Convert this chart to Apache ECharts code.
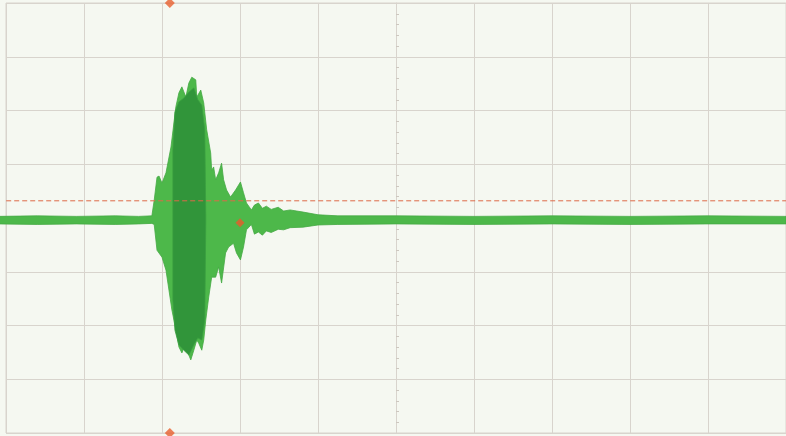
<!DOCTYPE html>
<html>
<head>
<meta charset="utf-8">
<script src="https://cdn.jsdelivr.net/npm/echarts@6/dist/echarts.min.js"></script>
<style>
  html, body { margin: 0; padding: 0; background: #f5f8f1; }
  #chart { width: 786px; height: 436px; }
</style>
</head>
<body>
<div id="chart"></div>
<script>
// Screen units are divisions: 10 across, 8 high, centred on 0.
// Trace envelope, upper edge (x in div, y in div)
const outerTopX = [-5.10, -4.60, -4.10, -3.60, -3.30, -3.13, -3.10, -3.064, -3.038, -3.00, -2.949, -2.885, -2.822, -2.783, -2.745, -2.694, -2.656, -2.618, -2.567, -2.554, -2.503, -2.465, -2.427, -2.376, -2.363, -2.338, -2.312, -2.274, -2.236, -2.210, -2.172, -2.121, -2.057, -1.994, -1.955, -1.917, -1.854, -1.815, -1.764, -1.713, -1.662, -1.600, -1.510, -1.440, -1.357, -1.190, -1.000, -0.745, 0.00, 1.00, 2.00, 3.00, 4.00, 5.00];
const outerTopY = [0.03, 0.04, 0.03, 0.04, 0.03, 0.04, 0.33, 0.76, 0.78, 0.65, 0.84, 1.32, 2.07, 2.33, 2.44, 2.25, 2.51, 2.62, 2.57, 2.25, 2.38, 2.14, 1.64, 1.21, 0.89, 0.95, 0.71, 0.84, 1.02, 0.71, 0.52, 0.39, 0.52, 0.67, 0.47, 0.28, 0.15, 0.24, 0.28, 0.18, 0.22, 0.16, 0.20, 0.13, 0.15, 0.11, 0.06, 0.04, 0.04, 0.03, 0.04, 0.03, 0.04, 0.03];
// Trace envelope, lower edge
const outerBottomX = [-5.10, -4.60, -4.10, -3.60, -3.30, -3.13, -3.10, -3.064, -3.00, -2.949, -2.911, -2.873, -2.822, -2.783, -2.745, -2.694, -2.656, -2.631, -2.592, -2.554, -2.529, -2.490, -2.465, -2.439, -2.401, -2.363, -2.312, -2.274, -2.236, -2.185, -2.146, -2.083, -2.045, -1.994, -1.955, -1.917, -1.854, -1.815, -1.764, -1.713, -1.662, -1.600, -1.510, -1.440, -1.357, -1.190, -1.000, -0.745, 0.00, 1.00, 2.00, 3.00, 4.00, 5.00];
const outerBottomY = [-0.11, -0.12, -0.11, -0.12, -0.11, -0.10, -0.12, -0.60, -0.73, -0.97, -1.34, -1.71, -2.08, -2.40, -2.51, -2.33, -2.55, -2.64, -2.46, -2.27, -2.33, -2.46, -2.27, -1.90, -1.47, -1.10, -1.10, -0.91, -1.21, -0.65, -0.54, -0.47, -0.65, -0.78, -0.54, -0.22, -0.12, -0.30, -0.26, -0.32, -0.24, -0.27, -0.21, -0.22, -0.18, -0.17, -0.13, -0.12, -0.11, -0.12, -0.11, -0.12, -0.11, -0.11];
// Dense core of the burst
const innerTopX = [-2.860, -2.834, -2.783, -2.720, -2.656, -2.592, -2.541, -2.490, -2.452, -2.439];
const innerTopY = [1.27, 1.97, 2.16, 2.23, 2.34, 2.42, 2.20, 2.10, 1.64, 0.06];
const innerBottomX = [-2.860, -2.834, -2.783, -2.720, -2.656, -2.592, -2.541, -2.490, -2.452, -2.439];
const innerBottomY = [-1.53, -2.09, -2.36, -2.46, -2.55, -2.36, -2.23, -2.27, -1.90, -0.13];
// Trigger level, trigger position and cursor
const triggerLevel = 0.32;
const triggerTime = -2.90;
const cursorPoint = [-2.00, -0.09];
const screenXMin = -5.10, screenXMax = 5.00;

function zip(xs, ys) { return xs.map((x, i) => [x, ys[i]]); }

function bandSeries(topX, topY, botX, botY, fill, stroke, z) {
  const top = zip(topX, topY);
  const bot = zip(botX, botY).reverse();
  return {
    type: 'custom',
    coordinateSystem: 'cartesian2d',
    clip: false,
    z: z,
    silent: true,
    data: [[0, 0]],
    renderItem: function (params, api) {
      const pts = top.concat(bot).map(p => api.coord(p));
      return {
        type: 'polygon',
        shape: { points: pts },
        style: { fill: fill, stroke: stroke, lineWidth: 0.8 }
      };
    }
  };
}

const chart = echarts.init(document.getElementById('chart'), null, { renderer: 'canvas' });
const gridColor = '#d8d4cd';
chart.setOption({
  backgroundColor: '#f5f8f1',
  animation: false,
  grid: { left: 6, top: 3, width: 785, height: 430, show: true, borderColor: gridColor, borderWidth: 1, backgroundColor: 'transparent' },
  xAxis: {
    type: 'value', min: -5, max: 5, interval: 1,
    axisLine: { show: true, onZero: true, lineStyle: { color: gridColor, width: 1 } },
    axisTick: { show: false },
    minorTick: { show: false },
    axisLabel: { show: false },
    splitLine: { show: true, lineStyle: { color: gridColor, width: 1 } }
  },
  yAxis: {
    type: 'value', min: -4, max: 4, interval: 1,
    axisLine: { show: true, onZero: true, lineStyle: { color: gridColor, width: 1 } },
    axisTick: { show: true, inside: true, length: 3, lineStyle: { color: gridColor } },
    minorTick: { show: true, splitNumber: 5, length: 3, lineStyle: { color: '#cdc8c0' } },
    axisLabel: { show: false },
    splitLine: { show: true, lineStyle: { color: gridColor, width: 1 } }
  },
  series: [
    bandSeries(outerTopX, outerTopY, outerBottomX, outerBottomY, '#4db84a', '#45aa44', 3),
    bandSeries(innerTopX, innerTopY, innerBottomX, innerBottomY, '#31953a', '#3a9e40', 4),
    {
      type: 'line', z: 5, clip: false, silent: true, symbol: 'none',
      data: [[screenXMin, triggerLevel], [screenXMax, triggerLevel]],
      lineStyle: { color: '#dd6a48', width: 1, type: [5, 3] }
    },
    {
      type: 'scatter', z: 6, clip: false, silent: true,
      symbol: 'diamond', symbolSize: 10,
      itemStyle: { color: '#e8602f' },
      data: [[triggerTime, 4], [triggerTime, -4]]
    },
    {
      type: 'scatter', z: 6, clip: false, silent: true,
      symbol: 'diamond', symbolSize: 9,
      itemStyle: { color: '#ea5a2a' },
      data: [cursorPoint]
    }
  ]
});
</script>
</body>
</html>
